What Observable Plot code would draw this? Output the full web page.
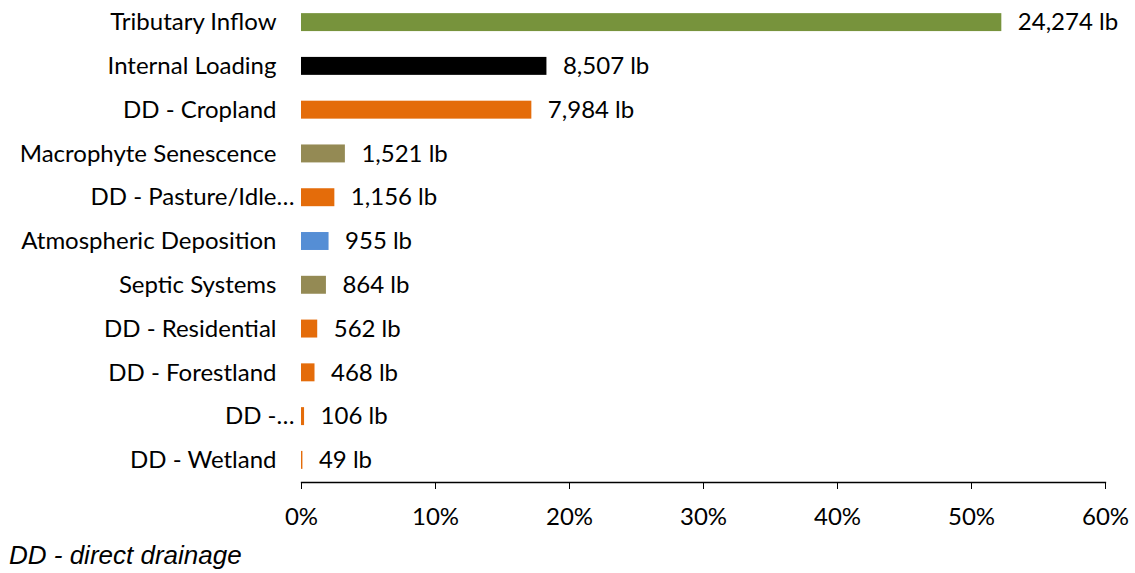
<!DOCTYPE html>
<html>
<head>
<meta charset="utf-8">
<script src="https://cdn.jsdelivr.net/npm/d3@7"></script>
<script src="https://cdn.jsdelivr.net/npm/@observablehq/plot@0.6"></script>
<style>
  html, body { margin: 0; padding: 0; background: #fff; }
  #chart { width: 1135px; height: 532px; }
  .note { font-family: "Liberation Sans", Arial, sans-serif; font-style: italic; font-size: 26px; line-height: 30px; color: #000; margin: 8px 0 0 9px; }
</style>
</head>
<body>
<div id="chart"></div>
<div class="note">DD - direct drainage</div>
<script>
const categories = ["Tributary Inflow", "Internal Loading", "DD - Cropland", "Macrophyte Senescence", "DD - Pasture/Idle…", "Atmospheric Deposition", "Septic Systems", "DD - Residential", "DD - Forestland", "DD -…", "DD - Wetland"];
const loads = [24274, 8507, 7984, 1521, 1156, 955, 864, 562, 468, 106, 49];
const groups = ["Tributary", "Internal", "Direct drainage", "Macrophyte", "Direct drainage", "Atmospheric", "Septic", "Direct drainage", "Direct drainage", "Direct drainage", "Direct drainage"];
const groupNames = ["Tributary", "Internal", "Direct drainage", "Macrophyte", "Atmospheric", "Septic"];
const groupColors = ["#77933C", "#000000", "#E46C0A", "#948A54", "#558ED5", "#948A54"];
const xTicks = [0, 0.1, 0.2, 0.3, 0.4, 0.5, 0.6];

const total = d3.sum(loads);
const data = categories.map((c, i) => ({category: c, load: loads[i], share: loads[i] / total, group: groups[i]}));
const font = "Lato, 'Open Sans', sans-serif";
const truncated = categories.filter(c => c.endsWith("…"));
const fullLabels = categories.filter(c => !c.endsWith("…"));

const chart = Plot.plot({
  width: 1135,
  height: 532,
  marginLeft: 301,
  marginRight: 30,
  marginTop: 0,
  marginBottom: 50,
  style: {fontFamily: font, fontSize: "24px", color: "#000", background: "#fff", overflow: "visible"},
  x: {domain: [0, 0.6]},
  y: {domain: categories, paddingInner: 0.59, paddingOuter: 0.3, round: false},
  color: {domain: groupNames, range: groupColors},
  marks: [
    Plot.barX(data, {x: "share", y: "category", fill: "group"}),
    Plot.text(data, {x: "share", y: "category", text: d => d3.format(",")(d.load) + " lb", textAnchor: "start", dx: 16, fontSize: 24, fill: "#000"}),
    Plot.frame({anchor: "bottom", stroke: "#000", strokeWidth: 1.3}),
    Plot.axisX({ticks: xTicks, tickFormat: d => Math.round(d * 100) + "%", tickSize: 7, tickPadding: 18, label: null, fontSize: 24, stroke: "#000"}),
    Plot.axisY({ticks: fullLabels, tickSize: 0, tickPadding: 25, label: null, fontSize: 24}),
    Plot.axisY({ticks: truncated, tickSize: 0, tickPadding: 7, label: null, fontSize: 24})
  ]
});
document.getElementById("chart").appendChild(chart);
</script>
</body>
</html>
